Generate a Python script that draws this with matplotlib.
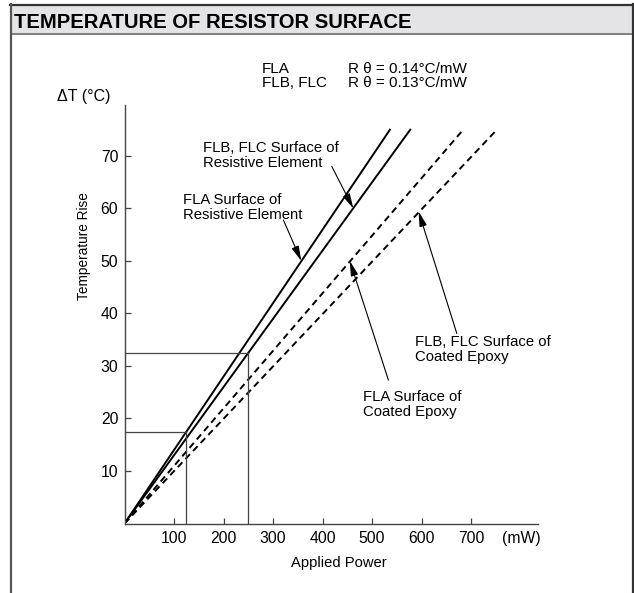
import matplotlib
matplotlib.use("Agg")
import matplotlib.pyplot as plt
from matplotlib.lines import Line2D
from matplotlib.patches import Rectangle

plt.rcParams['font.family'] = ['Liberation Sans', 'DejaVu Sans']

# thermal resistance lines (applied power mW -> temperature rise degC)
fla_res_x = [0, 536]
fla_res_y = [0, 75]
flb_res_x = [0, 577]
flb_res_y = [0, 75]
fla_epoxy_x = [0, 684]
fla_epoxy_y = [0, 75]
flb_epoxy_x = [0, 752]
flb_epoxy_y = [0, 75]

# rated points marked with guide lines
guide_power = [125, 250]
guide_temp = [17.5, 32.5]

x_ticks = [100, 200, 300, 400, 500, 600, 700]
y_ticks = [10, 20, 30, 40, 50, 60, 70]

W, H = 634, 593
fig = plt.figure(figsize=(W / 100, H / 100), dpi=100)

def fx(px):
    return px / W

def fy(py):
    return 1 - py / H

# header band and frame
fig.patches.append(Rectangle((fx(11), fy(33.5)), fx(632.5) - fx(11), fy(4.5) - fy(33.5),
                             transform=fig.transFigure, facecolor='#e4e4e6', edgecolor='none'))
fig.lines.append(Line2D([fx(10), fx(633)], [fy(4.5), fy(4.5)], transform=fig.transFigure, color='#333333', lw=1.6))
fig.lines.append(Line2D([fx(11), fx(632.5)], [fy(33.5), fy(33.5)], transform=fig.transFigure, color='#777777', lw=1.3))
fig.lines.append(Line2D([fx(11), fx(11)], [fy(4), fy(593)], transform=fig.transFigure, color='#555555', lw=1.6))
fig.lines.append(Line2D([fx(632.5), fx(632.5)], [fy(4), fy(593)], transform=fig.transFigure, color='#333333', lw=1.6))
fig.text(fx(14), fy(28), 'TEMPERATURE OF RESISTOR SURFACE', fontsize=14.6, fontweight='bold',
         va='baseline', ha='left')

# legend text
fig.text(fx(262), fy(73), 'FLA', fontsize=11, va='baseline')
fig.text(fx(262), fy(87), 'FLB, FLC', fontsize=11, va='baseline')
fig.text(fx(348), fy(73), 'R \u03b8 = 0.14\u00b0C/mW', fontsize=11, va='baseline')
fig.text(fx(348), fy(87), 'R \u03b8 = 0.13\u00b0C/mW', fontsize=11, va='baseline')

ax = fig.add_axes([124.5 / W, (H - 523.5) / H, 413.5 / W, 418.5 / H])
ax.set_xlim(0, 835)
ax.set_ylim(0, 79.7)
for s in ['top', 'right']:
    ax.spines[s].set_visible(False)
for s in ['left', 'bottom']:
    ax.spines[s].set_color('#444444')
    ax.spines[s].set_linewidth(1.0)

ax.plot(fla_res_x, fla_res_y, color='black', lw=1.4)
ax.plot(flb_res_x, flb_res_y, color='black', lw=1.4)
ax.plot(fla_epoxy_x, fla_epoxy_y, color='black', lw=1.4, dashes=(3.4, 2.3))
ax.plot(flb_epoxy_x, flb_epoxy_y, color='black', lw=1.4, dashes=(3.4, 2.3))

for p, t in zip(guide_power, guide_temp):
    ax.plot([0, p], [t, t], color='#444444', lw=0.9)
    ax.plot([p, p], [0, t], color='#444444', lw=0.9)

ax.set_xticks(x_ticks)
ax.set_yticks(y_ticks)
ax.tick_params(direction='in', length=4.5, width=0.9, color='#444444', labelsize=11.3)
ax.tick_params(axis='x', pad=5.5)
ax.tick_params(axis='y', pad=4.5)
ax.text(801, -1.5, '(mW)', fontsize=11.3, ha='center', va='top', clip_on=False)

fig.text(fx(57), fy(101), '\u0394T (\u00b0C)', fontsize=11.5, va='baseline')
fig.text(fx(339), fy(567), 'Applied Power', fontsize=10.6, ha='center', va='baseline')
fig.text(fx(84), fy(246.5), 'Temperature Rise', fontsize=9.8, rotation=90, ha='center', va='center')

# callouts
arrow = dict(arrowstyle='-|>,head_length=0.6,head_width=0.15', mutation_scale=15,
             color='black', lw=0.8, shrinkA=0, shrinkB=0)
ax.annotate('', xy=(462, 60.0), xytext=(418.6, 68.0), arrowprops=arrow)
ax.annotate('', xy=(357, 50.0), xytext=(320.8, 57.8), arrowprops=arrow)
ax.annotate('', xy=(455, 50.0), xytext=(533, 27.3), arrowprops=arrow)
ax.annotate('', xy=(594, 59.4), xytext=(671, 36.2), arrowprops=arrow)

lab = dict(fontsize=10.7, ha='left', va='top', linespacing=1.1)
ax.text(158.6, 72.9, 'FLB, FLC Surface of\nResistive Element', **lab)
ax.text(118, 63, 'FLA Surface of\nResistive Element', **lab)
ax.text(587, 35.9, 'FLB, FLC Surface of\nCoated Epoxy', **lab)
ax.text(482, 25.4, 'FLA Surface of\nCoated Epoxy', **lab)

fig.savefig('out.png', dpi=100)
